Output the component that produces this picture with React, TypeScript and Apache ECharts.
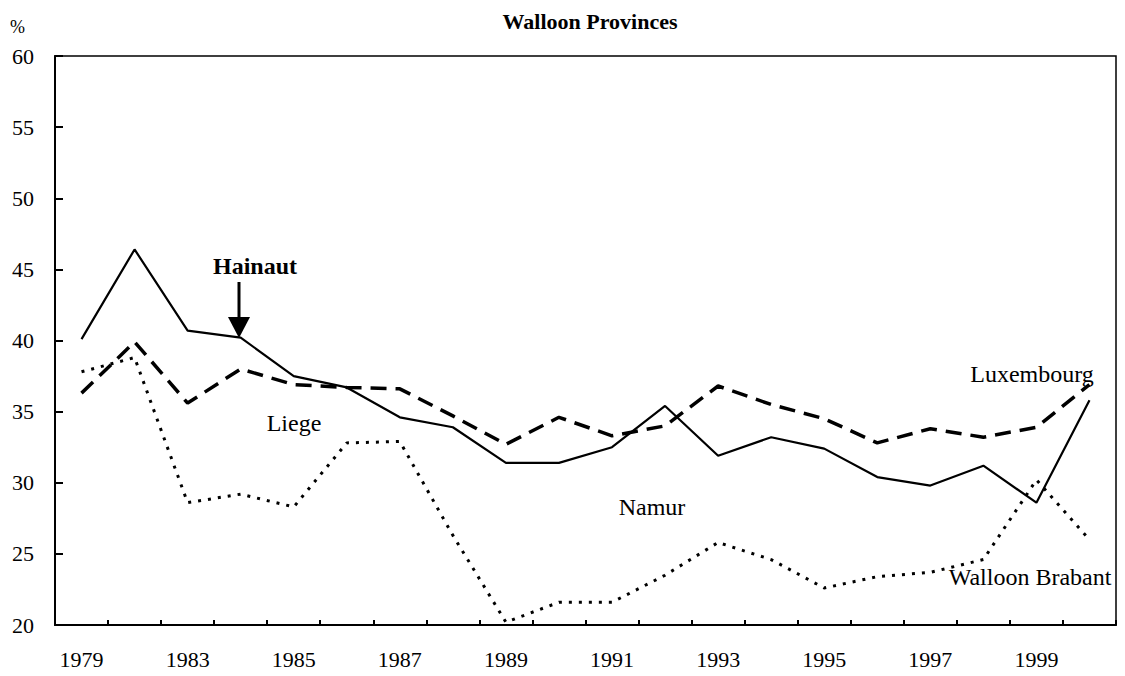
import React, { useEffect, useRef } from "react";
import * as echarts from "echarts";

const categories = [
  "1979", "1982", "1983", "1984", "1985", "1986", "1987", "1988", "1989", "1990",
  "1991", "1992", "1993", "1994", "1995", "1996", "1997", "1998", "1999", "2000",
];

const hainaut = [40.1, 46.4, 40.7, 40.2, 37.5, 36.7, 34.6, 33.9, 31.4, 31.4, 32.5, 35.4, 31.9, 33.2, 32.4, 30.4, 29.8, 31.2, 28.6, 35.8];
const luxembourg = [36.3, 39.9, 35.6, 38.0, 36.9, 36.7, 36.6, 34.7, 32.7, 34.6, 33.3, 34.0, 36.8, 35.5, 34.5, 32.8, 33.8, 33.2, 33.9, 36.9];
const walloonBrabant = [37.8, 38.8, 28.6, 29.2, 28.3, 32.8, 32.9, 26.3, 20.2, 21.6, 21.6, 23.5, 25.8, 24.6, 22.6, 23.4, 23.7, 24.6, 30.2, 26.0];

const yMin = 20;
const yMax = 60;
const yStep = 5;

const FONT = '"Liberation Serif", "Times New Roman", serif';

export default function App() {
  const ref = useRef<HTMLDivElement>(null);

  useEffect(() => {
    if (!ref.current) return;
    const chart = echarts.init(ref.current, null, { renderer: "svg" });

    const label = (text: string, x: number, y: number, bold = false) => ({
      type: "text",
      x,
      y,
      style: {
        text,
        fill: "#000",
        font: `${bold ? "bold " : ""}24px ${FONT}`,
        textAlign: "center",
        textVerticalAlign: "middle",
      },
    });

    chart.setOption({
      animation: false,
      backgroundColor: "#fff",
      title: {
        text: "Walloon Provinces",
        left: 585,
        top: 5,
        textAlign: "center",
        textStyle: { fontFamily: FONT, fontSize: 22, fontWeight: "bold", color: "#000" },
      },
      grid: {
        left: 55,
        right: 9,
        top: 56,
        bottom: 51,
        show: true,
        borderColor: "#000",
        borderWidth: 1.5,
        backgroundColor: "transparent",
      },
      xAxis: {
        type: "category",
        data: categories,
        boundaryGap: true,
        axisLine: { show: true, lineStyle: { color: "#000", width: 2 } },
        axisTick: { show: true, inside: true, length: 5, interval: 0, lineStyle: { color: "#000", width: 2 } },
        axisLabel: { interval: 1, margin: 23, color: "#000", fontFamily: FONT, fontSize: 22 },
        splitLine: { show: false },
      },
      yAxis: {
        type: "value",
        min: yMin,
        max: yMax,
        interval: yStep,
        axisLine: { show: true, lineStyle: { color: "#000", width: 2 } },
        axisTick: { show: true, inside: true, length: 8, lineStyle: { color: "#000", width: 2 } },
        axisLabel: { margin: 21, color: "#000", fontFamily: FONT, fontSize: 22 },
        splitLine: { show: false },
      },
      series: [
        {
          name: "Hainaut",
          type: "line",
          data: hainaut,
          symbol: "none",
          lineStyle: { color: "#000", width: 2.2, type: "solid" },
        },
        {
          name: "Luxembourg",
          type: "line",
          data: luxembourg,
          symbol: "none",
          lineStyle: { color: "#000", width: 3.5, type: [16, 9] },
        },
        {
          name: "Walloon Brabant",
          type: "line",
          data: walloonBrabant,
          symbol: "none",
          lineStyle: { color: "#000", width: 3, type: [3, 7] },
        },
      ],
      graphic: [
        {
          type: "text",
          x: 10,
          y: 27,
          style: { text: "%", fill: "#000", font: `18px ${FONT}`, textVerticalAlign: "middle" },
        },
        label("Hainaut", 255, 266, true),
        label("Liege", 294, 423),
        label("Namur", 652, 507),
        label("Walloon Brabant", 1030, 577),
        label("Luxembourg", 1032, 374),
        {
          type: "line",
          shape: { x1: 239, y1: 282, x2: 239, y2: 320 },
          style: { stroke: "#000", lineWidth: 3 },
        },
        {
          type: "polygon",
          shape: { points: [[228, 317], [250, 317], [239, 338]] },
          style: { fill: "#000" },
        },
      ],
    });

    return () => chart.dispose();
  }, []);

  return (
    <div
      ref={ref}
      style={{ position: "fixed", left: 0, top: 0, width: 1125, height: 676 }}
    />
  );
}
